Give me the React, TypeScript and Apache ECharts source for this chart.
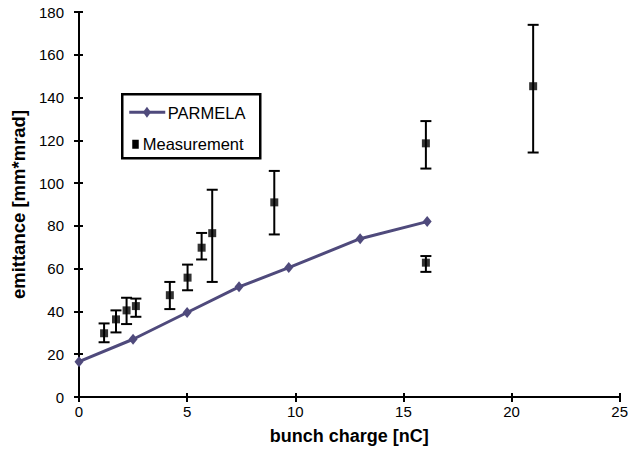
import React, { useEffect, useRef } from "react";
import * as echarts from "echarts";

const xTicks = [0, 5, 10, 15, 20, 25];
const yTicks = [0, 20, 40, 60, 80, 100, 120, 140, 160, 180];
const parmelaX = [0, 2.5, 5, 7.4, 9.7, 13, 16.1];
const parmelaY = [16.5, 27, 39.5, 51.5, 60.5, 74, 82];
const measX = [1.16, 1.71, 2.2, 2.63, 4.2, 5.02, 5.67, 6.16, 9.03, 16.04, 16.04, 21];
const measY = [29.8, 36.3, 40.5, 42.5, 47.6, 55.8, 69.8, 76.6, 91, 118.6, 62.8, 145.3];
const measLow = [25.6, 30.2, 34.1, 37.5, 41.1, 49.9, 64.3, 53.8, 76, 106.8, 58.5, 114.3];
const measHigh = [34.4, 40.5, 46.4, 46, 53.8, 61.9, 76.7, 96.9, 105.7, 129, 65.9, 174];

const FONT = "'Liberation Sans', Arial, sans-serif";
const LINE_COLOR = "#4f4a7c";

export default function App() {
  const ref = useRef<HTMLDivElement>(null);
  useEffect(() => {
    if (!ref.current) return;
    const chart = echarts.init(ref.current, null, { renderer: "svg" });
    const axisCommon = {
      axisLine: { show: true, lineStyle: { color: "#000", width: 2 } },
      splitLine: { show: false },
    };
    const xAxisBase = {
      type: "value",
      min: xTicks[0],
      max: xTicks[xTicks.length - 1],
      interval: 5,
      ...axisCommon,
    };
    const yAxisBase = {
      type: "value",
      min: yTicks[0],
      max: yTicks[yTicks.length - 1],
      interval: 20,
      ...axisCommon,
    };
    chart.setOption({
      animation: false,
      backgroundColor: "#fff",
      textStyle: { fontFamily: FONT },
      grid: { left: 79, right: 11, top: 12, bottom: 51, containLabel: false },
      xAxis: [
        {
          ...xAxisBase,
          name: "bunch charge [nC]",
          nameLocation: "middle",
          nameGap: 30,
          nameTextStyle: { fontFamily: FONT, fontSize: 18, fontWeight: "bold", color: "#000" },
          axisTick: { show: true, inside: false, length: 5, lineStyle: { color: "#000", width: 2 } },
          axisLabel: { fontFamily: FONT, fontSize: 15, color: "#000", margin: 7 },
        },
        {
          ...xAxisBase,
          position: "bottom",
          axisTick: { show: true, inside: true, length: 4, lineStyle: { color: "#000", width: 2 } },
          axisLabel: { show: false },
        },
      ],
      yAxis: [
        {
          ...yAxisBase,
          name: "emittance [mm*mrad]",
          nameLocation: "middle",
          nameGap: 46,
          nameTextStyle: {
            fontFamily: FONT,
            fontSize: 18.5,
            fontWeight: "bold",
            color: "#000",
          },
          axisTick: { show: true, inside: false, length: 5, lineStyle: { color: "#000", width: 2 } },
          axisLabel: { fontFamily: FONT, fontSize: 15, color: "#000", margin: 15 },
        },
        {
          ...yAxisBase,
          position: "left",
          axisTick: { show: true, inside: true, length: 4, lineStyle: { color: "#000", width: 2 } },
          axisLabel: { show: false },
        },
      ],
      series: [
        {
          name: "PARMELA",
          type: "line",
          data: parmelaX.map((x, i) => [x, parmelaY[i]]),
          symbol: "diamond",
          symbolSize: [9, 11],
          lineStyle: { color: LINE_COLOR, width: 3 },
          itemStyle: { color: LINE_COLOR },
          z: 3,
        },
        {
          name: "errors",
          type: "custom",
          data: measX.map((x, i) => [x, measLow[i], measHigh[i]]),
          renderItem: (params: any, api: any) => {
            const x = api.value(0);
            const lo = api.coord([x, api.value(1)]);
            const hi = api.coord([x, api.value(2)]);
            const hw = 5.5;
            const style = { stroke: "#000", lineWidth: 2 };
            return {
              type: "group",
              children: [
                { type: "line", shape: { x1: lo[0], y1: lo[1], x2: hi[0], y2: hi[1] }, style },
                { type: "line", shape: { x1: hi[0] - hw, y1: hi[1], x2: hi[0] + hw, y2: hi[1] }, style },
                { type: "line", shape: { x1: lo[0] - hw, y1: lo[1], x2: lo[0] + hw, y2: lo[1] }, style },
              ],
            };
          },
          z: 4,
        },
        {
          name: "Measurement",
          type: "scatter",
          data: measX.map((x, i) => [x, measY[i]]),
          symbol: "rect",
          symbolSize: 8,
          itemStyle: { color: "#000" },
          z: 5,
        },
      ],
      graphic: [
        {
          type: "group",
          left: 121,
          top: 93,
          children: [
            {
              type: "rect",
              shape: { x: 0, y: 0, width: 138, height: 64 },
              style: { fill: "#fff", stroke: "#000", lineWidth: 2.5 },
            },
            {
              type: "line",
              shape: { x1: 7, y1: 18, x2: 43, y2: 18 },
              style: { stroke: LINE_COLOR, lineWidth: 3 },
            },
            {
              type: "polygon",
              shape: { points: [[24.7, 12.5], [28.7, 18], [24.7, 23.5], [20.7, 18]] },
              style: { fill: LINE_COLOR },
            },
            {
              type: "text",
              x: 45.5,
              y: 18.5,
              style: { text: "PARMELA", fontFamily: FONT, fontSize: 16.5, fill: "#000", verticalAlign: "middle" },
            },
            {
              type: "rect",
              shape: { x: 10, y: 45.5, width: 6.5, height: 9 },
              style: { fill: "#000" },
            },
            {
              type: "text",
              x: 20.5,
              y: 49.5,
              style: { text: "Measurement", fontFamily: FONT, fontSize: 16.5, fill: "#000", verticalAlign: "middle" },
            },
          ],
        },
      ],
    });
    return () => chart.dispose();
  }, []);
  return (
    <div
      ref={ref}
      style={{ position: "fixed", left: 0, top: 0, width: 631, height: 450, background: "#fff" }}
    />
  );
}
